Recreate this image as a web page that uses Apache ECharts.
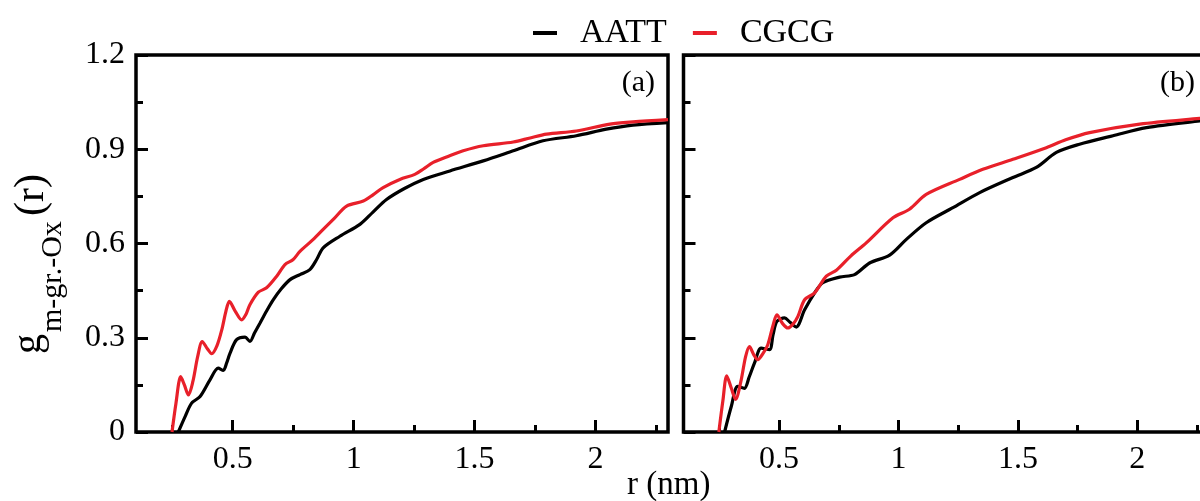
<!DOCTYPE html>
<html><head><meta charset="utf-8">
<script src="https://cdn.jsdelivr.net/npm/echarts@6/dist/echarts.min.js"></script>
<style>html,body{margin:0;padding:0;overflow:hidden;background:#fff}#c{width:1220px;height:501px}</style>
</head><body><div id="c"></div>
<script>
const FONT = '"Liberation Serif", "Times New Roman", serif';
const seriesNames = ['AATT', 'CGCG'];
const panelLabels = ['(a)', '(b)'];
const xMajorTicks = [0.5, 1, 1.5, 2];
const xMinorTicks = [0.25, 0.75, 1.25, 1.75, 2.25];
const xRange = [0.1, 2.3];
const yRange = [0, 1.2];
const yInterval = 0.3;

// panel (a)
const aattA = [[0.275,0],[0.303,0.049],[0.33,0.092],[0.365,0.113],[0.406,0.166],[0.44,0.203],[0.461,0.196],[0.475,0.22],[0.489,0.251],[0.516,0.294],[0.551,0.302],[0.571,0.288],[0.59,0.315],[0.613,0.347],[0.64,0.385],[0.668,0.421],[0.70,0.455],[0.737,0.485],[0.778,0.501],[0.819,0.517],[0.847,0.549],[0.874,0.586],[0.943,0.623],[1.026,0.661],[1.08,0.70],[1.136,0.740],[1.21,0.775],[1.288,0.804],[1.398,0.831],[1.536,0.863],[1.66,0.895],[1.783,0.927],[1.921,0.943],[2.045,0.964],[2.155,0.977],[2.30,0.985]];
const cgcgA = [[0.249,0],[0.265,0.09],[0.285,0.176],[0.300,0.150],[0.317,0.118],[0.335,0.160],[0.355,0.240],[0.374,0.288],[0.395,0.265],[0.413,0.249],[0.435,0.275],[0.455,0.326],[0.472,0.385],[0.486,0.416],[0.51,0.385],[0.537,0.357],[0.555,0.375],[0.571,0.405],[0.606,0.445],[0.64,0.459],[0.682,0.496],[0.716,0.533],[0.75,0.549],[0.778,0.575],[0.833,0.613],[0.874,0.645],[0.92,0.68],[0.971,0.719],[1.04,0.735],[1.08,0.755],[1.122,0.778],[1.191,0.804],[1.253,0.820],[1.29,0.838],[1.329,0.858],[1.39,0.877],[1.453,0.895],[1.536,0.911],[1.66,0.923],[1.73,0.936],[1.798,0.948],[1.921,0.958],[2.06,0.980],[2.155,0.987],[2.30,0.994]];
// panel (b)
const aattB = [[0.272,0],[0.3,0.081],[0.327,0.145],[0.355,0.139],[0.375,0.175],[0.397,0.219],[0.425,0.267],[0.46,0.262],[0.475,0.31],[0.491,0.352],[0.523,0.363],[0.545,0.35],[0.572,0.334],[0.607,0.389],[0.649,0.443],[0.683,0.475],[0.753,0.493],[0.816,0.501],[0.879,0.538],[0.963,0.563],[1.033,0.613],[1.116,0.666],[1.228,0.714],[1.34,0.762],[1.479,0.81],[1.577,0.842],[1.661,0.890],[1.758,0.916],[1.898,0.943],[2.038,0.969],[2.261,0.99],[2.30,0.992]];
const cgcgB = [[0.248,0],[0.265,0.10],[0.281,0.179],[0.300,0.14],[0.318,0.104],[0.34,0.16],[0.360,0.24],[0.376,0.272],[0.395,0.245],[0.411,0.230],[0.433,0.25],[0.453,0.278],[0.475,0.34],[0.491,0.373],[0.515,0.345],[0.537,0.331],[0.56,0.345],[0.579,0.368],[0.607,0.421],[0.649,0.443],[0.698,0.496],[0.74,0.515],[0.80,0.56],[0.865,0.602],[0.977,0.682],[1.046,0.709],[1.116,0.756],[1.256,0.804],[1.353,0.836],[1.479,0.868],[1.619,0.905],[1.70,0.93],[1.80,0.953],[2.01,0.980],[2.261,0.998],[2.30,1.0]];

const colors = ['#000000', '#e8202a'];
const grids = [
  {left: 136, top: 55, width: 532, height: 377},
  {left: 683.5, top: 55, width: 525.5, height: 377}
];

function xAxisMajor(gi) {
  return {type: 'value', gridIndex: gi, min: xRange[0], max: xRange[1], position: 'bottom',
    axisLine: {show: false}, splitLine: {show: false},
    axisTick: {show: true, inside: true, length: 12, customValues: xMajorTicks, lineStyle: {color: '#000', width: 3}},
    axisLabel: {show: true, customValues: xMajorTicks, margin: 12, color: '#000', fontSize: 32, fontFamily: FONT,
      formatter: v => String(v)}};
}
function xAxisMinor(gi) {
  return {type: 'value', gridIndex: gi, min: xRange[0], max: xRange[1], position: 'bottom',
    axisLine: {show: false}, splitLine: {show: false},
    axisTick: {show: true, inside: true, length: 7, customValues: xMinorTicks, lineStyle: {color: '#000', width: 3}},
    axisLabel: {show: false}};
}
function yAxis(gi, showLabel) {
  return {type: 'value', gridIndex: gi, min: yRange[0], max: yRange[1], interval: yInterval,
    axisLine: {show: false}, splitLine: {show: false},
    axisTick: {show: true, inside: true, length: 12, lineStyle: {color: '#000', width: 3}},
    minorTick: {show: true, splitNumber: 2, length: 7, lineStyle: {color: '#000', width: 3}},
    axisLabel: {show: showLabel, margin: 11, color: '#000', fontSize: 32, fontFamily: FONT,
      formatter: v => v === 0 ? '0' : v.toFixed(1)}};
}
function line(name, data, xi, yi, ci) {
  return {name, type: 'line', data, xAxisIndex: xi, yAxisIndex: yi, showSymbol: false, symbol: 'none',
    smooth: 0.3, color: colors[ci], itemStyle: {color: colors[ci]},
    lineStyle: {color: colors[ci], width: 3.2}, animation: false, z: 3 + ci};
}

const chart = echarts.init(document.getElementById('c'), null, {renderer: 'canvas'});
chart.setOption({
  animation: false,
  backgroundColor: '#fff',
  grid: grids.map(g => Object.assign({show: true, borderColor: '#000', borderWidth: 3.5, backgroundColor: 'transparent'}, g)),
  xAxis: [xAxisMajor(0), xAxisMinor(0), xAxisMajor(1), xAxisMinor(1)],
  yAxis: [yAxis(0, true), yAxis(1, false)],
  legend: {
    data: seriesNames, left: 528, top: 11, icon: 'rect', itemWidth: 24, itemHeight: 4, itemGap: 26,
    textStyle: {fontSize: 34, fontFamily: FONT, color: '#000', padding: [0, 0, 0, 18]}
  },
  series: [
    line(seriesNames[0], aattA, 0, 0, 0),
    line(seriesNames[1], cgcgA, 0, 0, 1),
    line(seriesNames[0], aattB, 2, 1, 0),
    line(seriesNames[1], cgcgB, 2, 1, 1)
  ],
  graphic: [
    {type: 'text', x: 655, y: 83, style: {text: panelLabels[0], font: '30px ' + FONT, fill: '#000', align: 'right', verticalAlign: 'middle'}},
    {type: 'text', x: 1195, y: 83, style: {text: panelLabels[1], font: '30px ' + FONT, fill: '#000', align: 'right', verticalAlign: 'middle'}},
    {type: 'text', x: 627, y: 485, style: {text: 'r (nm)', font: '33px ' + FONT, fill: '#000', align: 'left', verticalAlign: 'middle'}},
    {type: 'text', x: 29, y: 354, rotation: Math.PI / 2, style: {text: 'g', font: '40px ' + FONT, fill: '#000', align: 'left', verticalAlign: 'middle'}},
    {type: 'text', x: 53, y: 332, rotation: Math.PI / 2, style: {text: 'm-gr.-Ox', font: '30px ' + FONT, fill: '#000', align: 'left', verticalAlign: 'middle'}},
    {type: 'text', x: 32, y: 216, rotation: Math.PI / 2, style: {text: '(r)', font: '42px ' + FONT, fill: '#000', align: 'left', verticalAlign: 'middle'}}
  ]
});
</script></body></html>
